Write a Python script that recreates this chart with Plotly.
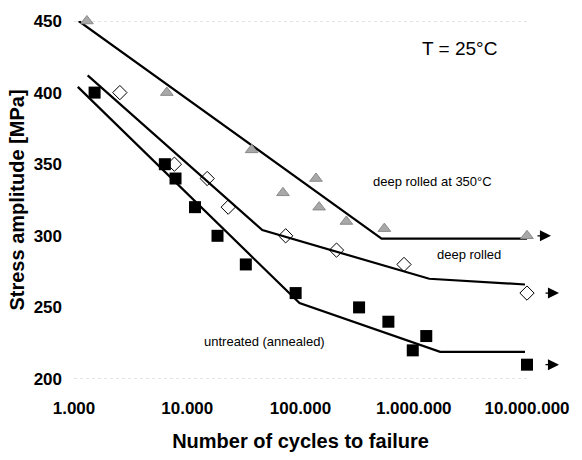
import numpy as np
import plotly.graph_objects as go

FONT = "Liberation Sans, Arial, sans-serif"

# Fatigue test results (cycles to failure, stress amplitude in MPa)
n_dr350 = [1300, 6600, 37000, 70000, 137000, 146000, 254000, 550000, 10000000]
s_dr350 = [450, 400, 360, 330, 340, 320, 310, 305, 300]

n_dr = [2540, 7700, 15000, 23000, 74000, 208000, 820000, 10000000]
s_dr = [400, 350, 340, 320, 300, 290, 280, 260]

n_un = [1520, 6340, 7880, 11700, 18500, 32900, 90600, 329000, 597000, 980000, 1290000, 10000000]
s_un = [400, 350, 340, 320, 300, 280, 260, 250, 240, 220, 230, 210]

# Piecewise S-N trend lines
fit_n_dr350 = [1100, 520000, 10000000]
fit_s_dr350 = [450, 298, 298]

fit_n_dr = [1320, 46000, 1370000, 9600000]
fit_s_dr = [412, 304, 270, 266]

fit_n_un = [1080, 98000, 1710000, 9600000]
fit_s_un = [404, 253, 219, 219]

# Run-outs (specimens that did not fail)
runout_n = [10000000, 10000000, 10000000]
runout_s = [300, 260, 210]
runout_shift = [9, 17, 17]

x_ticks = [1000, 10000, 100000, 1000000, 10000000]
x_tick_text = ["1.000", "10.000", "100.000", "1.000.000", "10.000.000"]
y_ticks = [200, 250, 300, 350, 400, 450]

fig = go.Figure()

for fx, fy in [(fit_n_dr350, fit_s_dr350), (fit_n_dr, fit_s_dr), (fit_n_un, fit_s_un)]:
    fig.add_trace(go.Scatter(x=fx, y=fy, mode="lines",
                             line=dict(color="black", width=2.2),
                             showlegend=False, hoverinfo="skip"))

fig.add_trace(go.Scatter(x=n_dr350, y=s_dr350, mode="markers", cliponaxis=False,
                         marker=dict(symbol="triangle-up", size=11, color="#a8a8a8",
                                     line=dict(color="#8a8a8a", width=1)),
                         showlegend=False))
fig.add_trace(go.Scatter(x=n_dr, y=s_dr, mode="markers", cliponaxis=False,
                         marker=dict(symbol="diamond-open", size=11, color="black",
                                     line=dict(color="black", width=1)),
                         showlegend=False))
fig.add_trace(go.Scatter(x=n_un, y=s_un, mode="markers", cliponaxis=False,
                         marker=dict(symbol="square", size=12, color="black"),
                         showlegend=False))

# faint dotted border lines at the top and bottom of the plot
for yv in [450, 200]:
    fig.add_shape(type="line", xref="paper", yref="y", x0=0, x1=1, y0=yv, y1=yv,
                  line=dict(color="#c8c8c8", width=1, dash="dot"), layer="below")

# run-out arrows
for nx, sy, sh in zip(runout_n, runout_s, runout_shift):
    fig.add_annotation(x=np.log10(nx), y=sy, xref="x", yref="y", xshift=sh + 15,
                       ax=-15, ay=0, showarrow=True, arrowhead=2, arrowsize=1.7,
                       arrowwidth=1.3, arrowcolor="black", text="")

labels = [
    ("T = 25°C", 6.405, 431, 19),
    ("deep rolled at 350°C", 6.164, 338, 13),
    ("deep rolled", 6.49, 287, 13),
    ("untreated (annealed)", 4.68, 226, 13),
]
for txt, lx, ly, fs in labels:
    fig.add_annotation(x=lx, y=ly, xref="x", yref="y", text=txt, showarrow=False,
                       font=dict(family=FONT, size=fs, color="black"))

fig.update_layout(
    width=582, height=460,
    margin=dict(l=74, r=43, t=19, b=80),
    paper_bgcolor="white", plot_bgcolor="white",
    font=dict(family=FONT, color="black"),
    xaxis=dict(type="log", range=[3, 7], tickvals=x_ticks, ticktext=x_tick_text,
               showgrid=False, zeroline=False, showline=False, ticks="",
               ticklabelstandoff=17,
               tickfont=dict(family=FONT, size=17, color="black", weight="bold"),
               title=dict(text="<b>Number of cycles to failure</b>",
                          font=dict(family=FONT, size=20, color="black"), standoff=16)),
    yaxis=dict(range=[200, 450], tickvals=y_ticks, showgrid=False, zeroline=False,
               showline=False, ticks="", ticklabelstandoff=11,
               tickfont=dict(family=FONT, size=17, color="black", weight="bold"),
               title=dict(text="<b>Stress amplitude [MPa]</b>",
                          font=dict(family=FONT, size=20, color="black"), standoff=3)),
)

fig.write_html("out.html")
